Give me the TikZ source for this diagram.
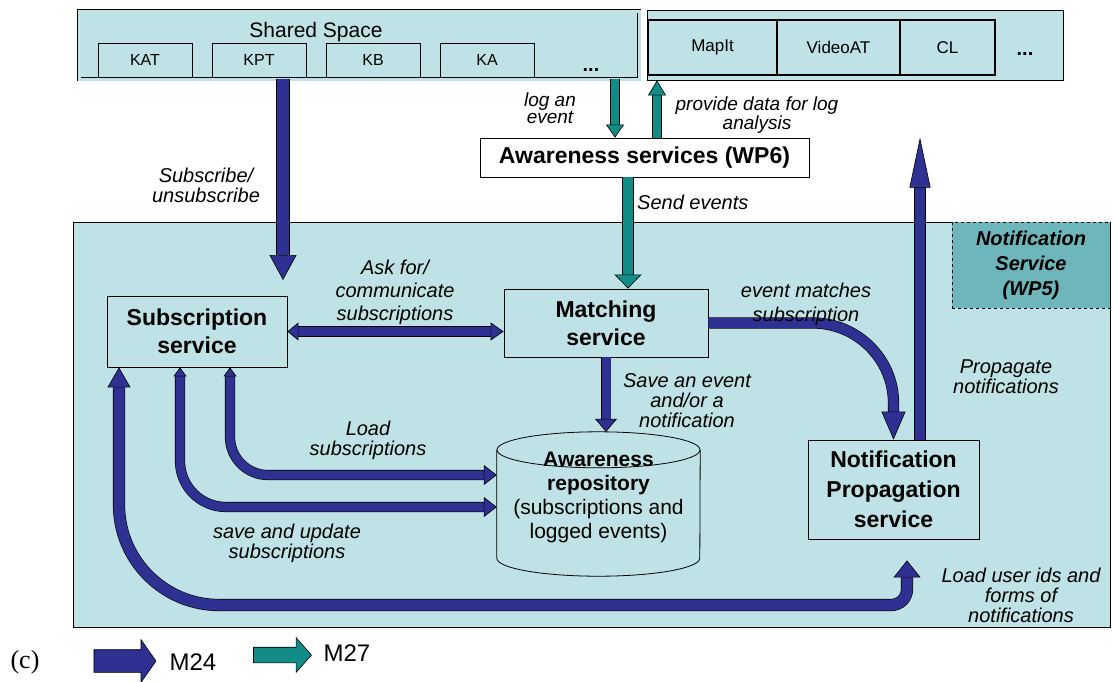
\documentclass[tikz,border=0pt]{standalone}
\usepackage{fontspec}
\setmainfont{Liberation Sans}
\newfontfamily\timesfont{Liberation Serif}
\usetikzlibrary{arrows.meta,shapes.arrows}

\definecolor{navy}{RGB}{46,49,146}
\definecolor{seagreen}{RGB}{17,140,135}
\definecolor{paleblue}{RGB}{190,226,229}
\definecolor{slate}{RGB}{109,182,187}

\begin{document}
\begin{tikzpicture}[x=1pt, y=-1pt,
  service/.style={draw=black, line width=.8pt, inner sep=0pt, align=center,
    font=\fontsize{23}{28}\selectfont\bfseries},
  module/.style={draw=black, line width=.8pt, inner sep=0pt, fill=paleblue,
    minimum width=94pt, minimum height=34pt, font=\fontsize{16}{18}\selectfont},
  tool/.style={draw=black, line width=1.3pt, inner sep=0pt, fill=paleblue,
    minimum height=55pt, font=\fontsize{17}{19}\selectfont},
  remark/.style={align=center, inner sep=0pt, font=\fontsize{20}{20}\selectfont\itshape},
  m24/.style={draw=black, line width=.6pt, double=navy, double distance=#1},
  m27/.style={draw=black, line width=.6pt, double=seagreen, double distance=#1},
  nhead/.style 2 args={arrows={-Triangle[width=#1,length=#2,line width=.6pt,fill=navy]}},
  thead/.style 2 args={arrows={-Triangle[width=#1,length=#2,line width=.6pt,fill=seagreen]}},
  nheads/.style n args={4}{arrows={Triangle[width=#1,length=#2,line width=.6pt,fill=navy]-Triangle[width=#3,length=#4,line width=.6pt,fill=navy]}},
  keyarrow/.style={single arrow, draw=black, line width=.6pt, inner xsep=0pt}
]
  \useasboundingbox (0,0) rectangle (1113,681);

  % notification service panel (WP5)
  \node[draw=black, line width=.8pt, fill=paleblue, inner sep=0pt,
    minimum width=1037pt, minimum height=405pt] (panel) at (591.5,424.5) {};
  \node[draw=black, line width=.8pt, dashed, fill=slate, inner sep=0pt, align=center,
    minimum width=158pt, minimum height=86pt,
    font=\fontsize{20}{25}\selectfont\bfseries\itshape] (nsvc) at (1031,265)
    {Notification\\Service\\(WP5)};

  % shared space and tools
  \node[draw=black, line width=.7pt, double=paleblue, double distance=3pt,
    fill=paleblue, inner sep=0pt, minimum width=560pt, minimum height=68pt] (shared) at (359,45) {};
  \foreach \name [count=\i] in {KAT,KPT,KB,KA}
    \node[module] (m\i) at (31+114*\i,60) {\name};
  \node[font=\fontsize{21}{21}\selectfont] (sslabel) at (316,32) {Shared Space};
  \node[font=\fontsize{20}{20}\selectfont\bfseries] (ssdots) at (591,70) {...};

  \node[draw=black, line width=.8pt, fill=paleblue, inner sep=0pt,
    minimum width=416pt, minimum height=70pt] (tools) at (855,45) {};
  \node[tool, minimum width=129pt] (mapit) at (712.5,47.5) {MapIt};
  \node[tool, minimum width=123pt] (videoat) at (838.5,47.5) {VideoAT};
  \node[tool, minimum width=95pt] (cl) at (947.5,47.5) {CL};
  \node[font=\fontsize{20}{20}\selectfont\bfseries] (tldots) at (1025,54) {...};

  % services
  \node[service, fill=white, minimum width=329pt, minimum height=39pt] (aware) at (644.5,157.5)
    {Awareness services (WP6)};
  \node[service, minimum width=180pt, minimum height=71pt] (subs) at (197,331.5)
    {Subscription\\service};
  \node[service, minimum width=204pt, minimum height=68pt] (match) at (606,323)
    {Matching\\service};
  \node[service, minimum width=171pt, minimum height=99pt,
    font=\fontsize{23}{30}\selectfont\bfseries] (prop) at (893.5,489.5)
    {Notification\\Propagation\\service};

  % repository
  \node[inner sep=0pt, align=center, minimum width=203pt, minimum height=130pt,
    font=\fontsize{21}{24}\selectfont] (repo) at (598.5,497)
    {\textbf{Awareness}\\\textbf{repository}\\(subscriptions and\\logged events)};
  \draw[line width=.8pt] ([yshift=-18pt]repo.north west) -- ([yshift=4pt]repo.south west)
    arc[start angle=180, end angle=360, x radius=101.5pt, y radius=18pt]
    -- ([yshift=-18pt]repo.north east);
  \draw[line width=.8pt] ([yshift=-18pt]repo.north) ellipse[x radius=101.5pt, y radius=18pt];

  % M27 arrows
  \coordinate (logx) at ([xshift=-29.5pt]aware.north);
  \coordinate (provx) at ([xshift=12.5pt]aware.north);
  \coordinate (sendx) at ([xshift=-16.5pt]aware.south);
  \draw[m27=8pt, thead={18pt}{13pt}] (shared.south -| logx) -- (logx);
  \draw[m27=8pt, thead={18pt}{15pt}] (provx) -- (tools.south -| provx);
  \draw[m27=10pt, thead={27pt}{14pt}] (sendx) -- (match.north -| sendx);

  % M24 arrows
  \coordinate (subtip) at (283,280);
  \draw[m24=12pt, nhead={27pt}{25pt}] (shared.south -| subtip) -- (subtip);
  \draw[m24=9pt, nheads={18pt}{11pt}{18pt}{13pt}] (subs.east) -- (subs.east -| match.west);
  \draw[m24=10pt, nhead={24pt}{28pt}] (match.east) -- (813,323)
    .. controls (857,323) and (893.5,359) .. (893.5,403) -- (prop.north);
  \coordinate (propx) at ([xshift=26.5pt]prop.north);
  \draw[m24=10pt, nhead={21pt}{50pt}] (propx) -- (propx |- aware.north);
  \draw[m24=9pt, nhead={22pt}{13pt}] (match.south) -- (match.south |- repo.north);

  \draw[m24=9pt, rounded corners=38pt, nheads={13pt}{9pt}{20pt}{13pt}]
    ([xshift=33pt]subs.south) |- ([yshift=22pt]repo.west);
  \draw[m24=9pt, rounded corners=46pt, nheads={13pt}{9pt}{20pt}{13pt}]
    ([xshift=-17pt]subs.south) |- ([yshift=-10pt]repo.west);

  \coordinate (uidtip) at ([xshift=13.5pt, yshift=-21pt]prop.south);
  \coordinate (ldb) at (119,605);
  \coordinate (ldc) at (uidtip |- ldb);
  \draw[m24=11pt, nheads={23pt}{20pt}{27pt}{17pt}] ([xshift=-78pt]subs.south)
    -- ([yshift=100pt]ldb) .. controls ([yshift=45pt]ldb) and ([xshift=45pt]ldb) .. ([xshift=100pt]ldb)
    -- ([xshift=-16pt]ldc) .. controls ([xshift=-7pt]ldc) and ([yshift=7pt]ldc) .. ([yshift=16pt]ldc)
    -- (uidtip);

  % labels
  \node[remark] (tsub) at (206,185) {Subscribe/\\unsubscribe};
  \node[remark, font=\fontsize{19}{17}\selectfont\itshape] (tlog) at (550,108) {log an\\event};
  \node[remark, font=\fontsize{19}{17}\selectfont\itshape] (tprov) at (757,115) {provide data for log\\analysis};
  \node[remark, anchor=west] (tsend) at (637,202) {Send events};
  \node[remark, font=\fontsize{20}{23}\selectfont\itshape] (task) at (395,292) {Ask for/\\communicate\\subscriptions};
  \node[remark, font=\fontsize{20}{24}\selectfont\itshape] (tmatch) at (806,304) {event matches\\subscription};
  \node[remark] (tsave) at (687,401) {Save an event\\and/or a\\notification};
  \node[remark] (tprop) at (1006,377) {Propagate\\notifications};
  \node[remark] (tload) at (368,440) {Load\\subscriptions};
  \node[remark] (tupd) at (287,543) {save and update\\subscriptions};
  \node[remark] (tuid) at (1021,595) {Load user ids and\\forms of\\notifications};

  % legend
  \node[font=\timesfont\fontsize{26}{26}\selectfont] (tag) at (25,662) {(c)};
  \node[keyarrow, fill=navy, inner ysep=11pt, minimum height=62pt,
    single arrow head extend=10pt, single arrow tip angle=110] (keya) at (121,661) {};
  \node[anchor=west, font=\fontsize{24}{24}\selectfont] (tm24) at (166,662) {M24};
  \node[keyarrow, fill=seagreen, inner ysep=7.5pt, minimum height=58pt,
    single arrow head extend=9.5pt, single arrow tip angle=97] (keyb) at (279,655) {};
  \node[anchor=west, font=\fontsize{24}{24}\selectfont] (tm27) at (320,653) {M27};
\end{tikzpicture}
\end{document}
